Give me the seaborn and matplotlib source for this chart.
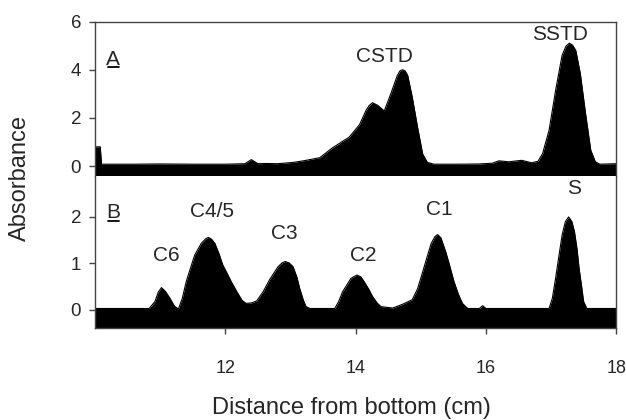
import numpy as np
import matplotlib
matplotlib.use("Agg")
import matplotlib.pyplot as plt
import seaborn as sns
from matplotlib.lines import Line2D

# trace A: standards (CSTD, SSTD)
x_a = [10.00, 10.08, 10.10, 10.60, 11.00, 11.50, 12.00, 12.30, 12.40, 12.50,
       12.63, 12.80, 13.03, 13.20, 13.45, 13.64, 13.90, 14.06, 14.16, 14.21,
       14.26, 14.34, 14.44, 14.54, 14.64, 14.68, 14.72, 14.76, 14.80, 14.87,
       14.95, 15.03, 15.10, 15.20, 15.60, 15.90, 16.10, 16.20, 16.35, 16.55,
       16.70, 16.80, 16.87, 16.97, 17.07, 17.17, 17.23, 17.28, 17.33, 17.38,
       17.45, 17.53, 17.61, 17.68, 17.75, 18.00]
abs_a = [0.80, 0.80, 0.08, 0.08, 0.09, 0.08, 0.08, 0.10, 0.27, 0.10,
         0.11, 0.10, 0.15, 0.22, 0.35, 0.75, 1.20, 1.72, 2.31, 2.52,
         2.63, 2.52, 2.29, 3.00, 3.76, 3.95, 4.00, 3.95, 3.76, 2.86,
         1.63, 0.50, 0.16, 0.08, 0.08, 0.09, 0.12, 0.22, 0.18, 0.24,
         0.14, 0.20, 0.52, 1.49, 3.14, 4.60, 4.98, 5.10, 5.02, 4.80,
         3.83, 2.18, 0.66, 0.18, 0.08, 0.10]

# trace B: sample fractions
x_b = [10.00, 10.83, 10.92, 10.97, 11.02, 11.08, 11.15, 11.22, 11.28, 11.34,
       11.40, 11.47, 11.53, 11.63, 11.70, 11.74, 11.79, 11.84, 11.90, 11.96,
       12.03, 12.09, 12.19, 12.26, 12.32, 12.40, 12.48, 12.58, 12.68, 12.81,
       12.87, 12.92, 12.98, 13.04, 13.10, 13.14, 13.20, 13.24, 13.30, 13.68,
       13.74, 13.80, 13.93, 14.02, 14.08, 14.13, 14.20, 14.26, 14.33, 14.39,
       14.57, 14.72, 14.87, 14.95, 15.03, 15.10, 15.16, 15.22, 15.26, 15.31,
       15.39, 15.45, 15.51, 15.58, 15.64, 15.72, 15.90, 15.95, 16.00, 16.97,
       17.02, 17.07, 17.12, 17.17, 17.22, 17.27, 17.32, 17.36, 17.40, 17.43,
       17.47, 17.50, 17.55, 18.00]
abs_b = [0.03, 0.03, 0.18, 0.38, 0.48, 0.40, 0.25, 0.08, 0.02, 0.25,
         0.61, 0.92, 1.18, 1.43, 1.53, 1.56, 1.52, 1.43, 1.22, 0.97,
         0.78, 0.61, 0.36, 0.20, 0.14, 0.15, 0.19, 0.39, 0.65, 0.93,
         1.01, 1.04, 1.01, 0.93, 0.70, 0.47, 0.20, 0.07, 0.03, 0.03,
         0.18, 0.39, 0.68, 0.75, 0.71, 0.61, 0.45, 0.29, 0.15, 0.07,
         0.04, 0.12, 0.22, 0.45, 0.82, 1.15, 1.43, 1.58, 1.62, 1.55,
         1.22, 0.92, 0.61, 0.33, 0.14, 0.03, 0.03, 0.09, 0.03, 0.03,
         0.25, 0.68, 1.15, 1.61, 1.90, 2.00, 1.90, 1.68, 1.30, 0.90,
         0.50, 0.18, 0.03, 0.03]

labels_a = ["CSTD", "SSTD"]
label_a_x = [14.45, 17.13]
label_a_y = [4.53, 5.46]

labels_b = ["C6", "C4/5", "C3", "C2", "C1", "S"]
label_b_x = [11.09, 11.80, 12.91, 14.11, 15.28, 17.35]
label_b_y = [1.17, 2.11, 1.65, 1.18, 2.15, 2.62]

sns.set_style("white")
plt.rcParams['font.family'] = ['Liberation Sans', 'DejaVu Sans']

fig = plt.figure(figsize=(6.26, 4.2), dpi=100)
ax1 = fig.add_axes([0.1518, 0.5821, 0.8325, 0.3667])
ax2 = fig.add_axes([0.1518, 0.2179, 0.8325, 0.3642])

spine_col = '#444444'

for ax, xs, ys, ylim in [(ax1, x_a, abs_a, (-0.39, 6)), (ax2, x_b, abs_b, (-0.4, 2.89))]:
    sns.lineplot(x=xs, y=ys, ax=ax, color='black', lw=0.8)
    ax.fill_between(xs, -1, ys, color='black', lw=0)
    ax.set_xlim(10, 18)
    ax.set_ylim(*ylim)
    for s in ax.spines.values():
        s.set_color(spine_col)
        s.set_linewidth(1)
    ax.tick_params(axis='y', direction='out', length=4, width=1, color=spine_col,
                   labelsize=13.5, pad=6, left=True)

ax1.spines['bottom'].set_visible(False)
ax2.spines['top'].set_visible(False)
ax1.set_yticks([0, 2, 4, 6])
ax1.set_xticks([])
ax2.set_yticks([0, 1, 2])
ax2.set_xticks([12, 14, 16, 18])
ax2.tick_params(axis='x', direction='out', length=4, width=1, color=spine_col,
                labelsize=13, pad=19, bottom=True)

# panel letters, underlined
panel_txt = [ax1.text(10.28, 4.44, 'A', fontsize=15, ha='center', va='center'),
             ax2.text(10.28, 2.09, 'B', fontsize=15, ha='center', va='center')]

for t, x, y in zip(labels_a, label_a_x, label_a_y):
    ax1.text(x, y, t, fontsize=15, ha='center', va='center')
for t, x, y in zip(labels_b, label_b_x, label_b_y):
    ax2.text(x, y, t, fontsize=15, ha='center', va='center')

fig.text(0.032, 1 - 178 / 420, "Absorbance", rotation=90, fontsize=17,
         ha='center', va='center')
fig.text(0.5615, 1 - 408 / 420, "Distance from bottom (cm)", fontsize=17,
         ha='center', va='center')

fig.canvas.draw()
r = fig.canvas.get_renderer()
for t in panel_txt:
    bb = t.get_window_extent(r).transformed(fig.transFigure.inverted())
    yy = bb.y0 + 0.004
    fig.add_artist(Line2D([bb.x0 + 0.002, bb.x1 - 0.002], [yy, yy], color='black',
                          lw=1.3, transform=fig.transFigure))

fig.savefig("out.png", dpi=100)
